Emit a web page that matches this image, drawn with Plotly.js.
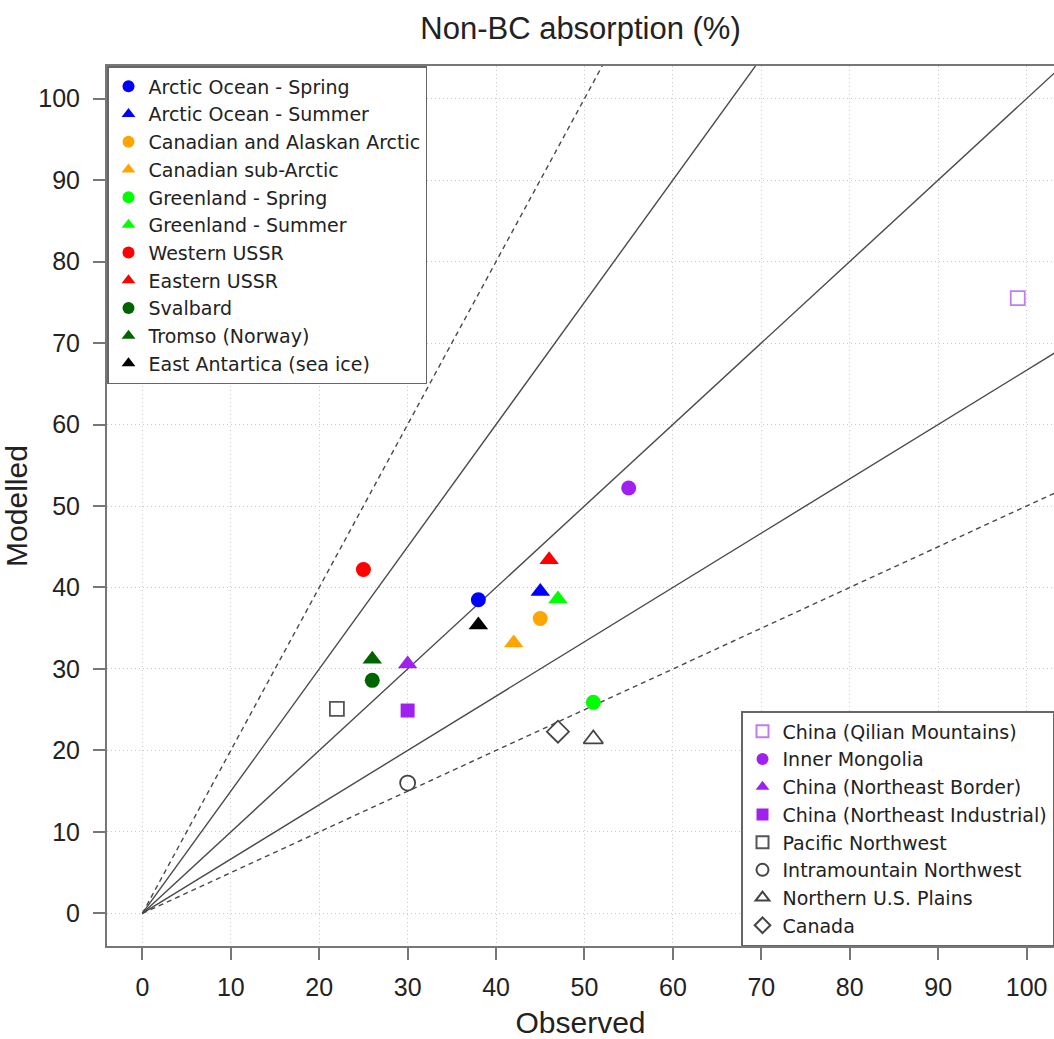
<!DOCTYPE html>
<html>
<head>
<meta charset="utf-8">
<script src="https://cdn.plot.ly/plotly-3.0.1.min.js"></script>
<style>body{margin:0;padding:0;background:#fff;}#chart{width:1054px;height:1039px;}</style>
</head>
<body>
<div id="chart"></div>
<script>
// ---- Data ----
var groupA = ["Arctic Ocean - Spring","Arctic Ocean - Summer","Canadian and Alaskan Arctic","Canadian sub-Arctic","Greenland - Spring","Greenland - Summer","Western USSR","Eastern USSR","Svalbard","Tromso (Norway)","East Antartica (sea ice)"];
var observedA = [38, 45, 45, 42, 51, 47, 25, 46, 26, 26, 38];
var modelledA = [38.5, 39.5, 36.2, 33.2, 25.9, 38.6, 42.2, 43.4, 28.6, 31.2, 35.4];

var groupB = ["China (Qilian Mountains)","Inner Mongolia","China (Northeast Border)","China (Northeast Industrial)","Pacific Northwest","Intramountain Northwest","Northern U.S. Plains","Canada"];
var observedB = [99, 55, 30, 30, 22, 30, 51, 47];
var modelledB = [75.5, 52.2, 30.6, 24.9, 25.1, 16.0, 21.4, 22.3];

// reference lines y = k * x
var refSlopes = [2, 1.5, 1, 1/1.5, 0.5];
var refDashed = [true, false, false, false, true];
var xTicks = [0,10,20,30,40,50,60,70,80,90,100];
var yTicks = [0,10,20,30,40,50,60,70,80,90,100];

// ---- Styles ----
var colorsA = ["#0000FF","#0000FF","#FFA500","#FFA500","#00FF00","#00FF00","#FF0000","#FF0000","#006400","#006400","#000000"];
var symbolsA = ["circle","triangle-up","circle","triangle-up","circle","triangle-up","circle","triangle-up","circle","triangle-up","triangle-up"];
var colorsB = ["#C07CF2","#A020F0","#A020F0","#A020F0","#555555","#444444","#444444","#444444"];
var symbolsB = ["square-open","circle","triangle-up","square","square-open","circle-open","triangle-up-open","diamond-open"];

function sizeFor(sym){
  if (sym.indexOf("triangle")===0) return 17;
  if (sym.indexOf("diamond")===0) return 17;
  if (sym.indexOf("square")===0) return 14;
  return 15;
}

var traces = [];
var xEnd = 110;
refSlopes.forEach(function(k, i){
  traces.push({
    x: [0, xEnd], y: [0, k*xEnd], mode: "lines", type: "scatter",
    line: {color: "#4a4a4a", width: 1.4, dash: refDashed[i] ? "5px,4px" : "solid"},
    showlegend: false, hoverinfo: "skip"
  });
});
groupA.forEach(function(name, i){
  traces.push({
    x: [observedA[i]], y: [modelledA[i]], name: name, mode: "markers", type: "scatter",
    marker: {symbol: symbolsA[i], color: colorsA[i], size: sizeFor(symbolsA[i])},
    legend: "legend"
  });
});
groupB.forEach(function(name, i){
  var open = symbolsB[i].indexOf("open") >= 0;
  traces.push({
    x: [observedB[i]], y: [modelledB[i]], name: name, mode: "markers", type: "scatter",
    marker: {symbol: symbolsB[i], color: colorsB[i], size: sizeFor(symbolsB[i]),
             line: {color: colorsB[i], width: open ? 1.8 : 0}},
    legend: "legend2"
  });
});

var axisFont = {family: "Liberation Sans, Arial, sans-serif", size: 25, color: "#222"};
var legendFont = {family: "DejaVu Sans, sans-serif", size: 19, color: "#222"};
var layout = {
  width: 1054, height: 1039,
  margin: {l: 107, r: 0, t: 66, b: 93},
  paper_bgcolor: "#fff", plot_bgcolor: "#fff",
  font: {family: "Liberation Sans, Arial, sans-serif", color: "#222"},
  title: {text: "Non-BC absorption (%)", font: {size: 31, color: "#222"}, x: 0.5, xref: "paper", xanchor: "center", y: 0.973, yref: "container", yanchor: "middle"},
  xaxis: {
    range: [-4, 103.1], tickvals: xTicks, ticktext: xTicks.map(String),
    showgrid: true, gridcolor: "#c8c8c8", griddash: "1px,3px", gridwidth: 1,
    zeroline: false, showline: true, linecolor: "#777", linewidth: 2, mirror: true,
    ticks: "outside", ticklen: 12, tickwidth: 2, tickcolor: "#777",
    tickfont: axisFont, ticklabelstandoff: 6,
    title: {text: "Observed", font: {size: 30, color: "#222"}, standoff: 12}
  },
  yaxis: {
    range: [-4, 104], tickvals: yTicks, ticktext: yTicks.map(String),
    showgrid: true, gridcolor: "#c8c8c8", griddash: "1px,3px", gridwidth: 1,
    zeroline: false, showline: true, linecolor: "#777", linewidth: 2, mirror: false,
    ticks: "outside", ticklen: 12, tickwidth: 2, tickcolor: "#777",
    tickfont: axisFont, ticklabelstandoff: 8,
    title: {text: "Modelled", font: {size: 30, color: "#222"}, standoff: 10}
  },
  legend: {
    x: 0, y: 1, xanchor: "left", yanchor: "top", xref: "paper", yref: "paper",
    bgcolor: "#fff", bordercolor: "#666", borderwidth: 1.5,
    font: legendFont, itemsizing: "constant", tracegroupgap: 0
  },
  legend2: {
    x: 1, y: 0, xanchor: "right", yanchor: "bottom", xref: "paper", yref: "paper",
    bgcolor: "#fff", bordercolor: "#666", borderwidth: 1.5,
    font: legendFont, itemsizing: "constant", tracegroupgap: 0
  },
  showlegend: true
};

Plotly.newPlot("chart", traces, layout, {displayModeBar: false, staticPlot: true});
</script>
</body>
</html>
